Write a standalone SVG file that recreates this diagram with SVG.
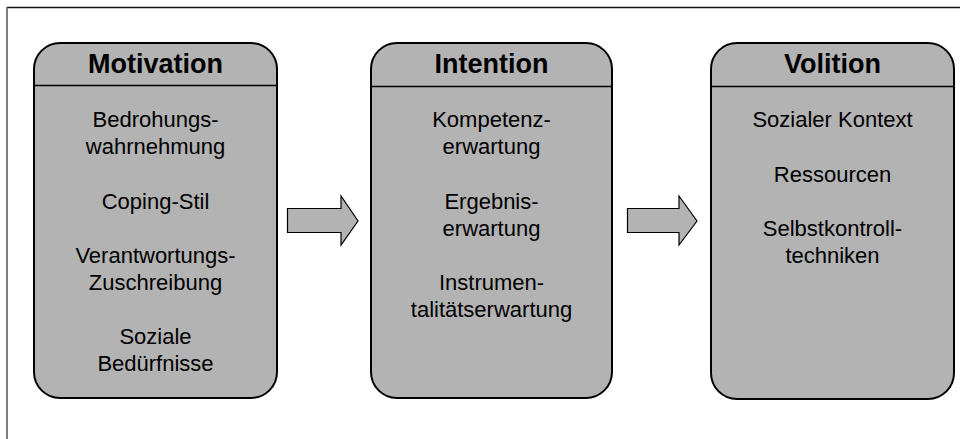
<svg xmlns="http://www.w3.org/2000/svg" width="960" height="439" viewBox="0 0 960 439">
<style>
.box{fill:#b3b3b3;stroke:#000;stroke-width:2}
.sep{stroke:#000;stroke-width:1.5}
.hd{font-family:"Liberation Sans",Arial,sans-serif;font-weight:bold;font-size:27px;text-anchor:middle;fill:#000}
.tx{font-family:"Liberation Sans",Arial,sans-serif;font-size:22px;text-anchor:middle;fill:#000}
.arr{fill:#b3b3b3;stroke:#000;stroke-width:1.2;stroke-linejoin:miter}
</style>
<rect width="960" height="439" fill="#fff"/>
<g id="frame">
<line x1="7" y1="7.5" x2="960" y2="7.5" stroke="#111" stroke-width="1.5"/>
<line x1="7" y1="7" x2="7" y2="439" stroke="#555" stroke-width="1.5"/>
</g>
<g id="motivation">
<rect class="box" x="34" y="43" width="243" height="355" rx="26" ry="26"/>
<line class="sep" x1="34" y1="85.5" x2="277" y2="85.5"/>
<text class="hd" x="155.5" y="73">Motivation</text>
<text class="tx" x="155.5" y="127.3">Bedrohungs-</text>
<text class="tx" x="155.5" y="154.4">wahrnehmung</text>
<text class="tx" x="155.5" y="208.6">Coping-Stil</text>
<text class="tx" x="155.5" y="262.8">Verantwortungs-</text>
<text class="tx" x="155.5" y="289.9">Zuschreibung</text>
<text class="tx" x="155.5" y="344.1">Soziale</text>
<text class="tx" x="155.5" y="371.2">Bedürfnisse</text>
</g>
<g id="intention">
<rect class="box" x="371" y="43" width="241" height="355" rx="26" ry="26"/>
<line class="sep" x1="371" y1="86.5" x2="612" y2="86.5"/>
<text class="hd" x="491.5" y="73">Intention</text>
<text class="tx" x="491.5" y="127.3">Kompetenz-</text>
<text class="tx" x="491.5" y="154.4">erwartung</text>
<text class="tx" x="491.5" y="208.6">Ergebnis-</text>
<text class="tx" x="491.5" y="235.7">erwartung</text>
<text class="tx" x="491.5" y="289.9">Instrumen-</text>
<text class="tx" x="491.5" y="317">talitätserwartung</text>
</g>
<g id="volition">
<rect class="box" x="711" y="43" width="243" height="356" rx="26" ry="26"/>
<line class="sep" x1="711" y1="86.5" x2="954" y2="86.5"/>
<text class="hd" x="832.5" y="73">Volition</text>
<text class="tx" x="832.5" y="127.3">Sozialer Kontext</text>
<text class="tx" x="832.5" y="181.5">Ressourcen</text>
<text class="tx" x="832.5" y="235.7">Selbstkontroll-</text>
<text class="tx" x="832.5" y="262.8">techniken</text>
</g>
<g id="connectors">
<polygon class="arr" points="287.5,208.5 341,208.5 341,196 358,221 341,245 341,232.5 287.5,232.5"/>
<polygon class="arr" points="627.5,208.5 679,208.5 679,196 697,221 679,245 679,232.5 627.5,232.5"/>
</g>
</svg>
